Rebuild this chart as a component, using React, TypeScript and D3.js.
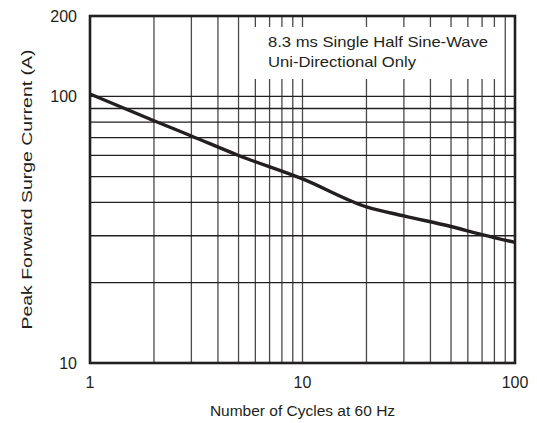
import { curveMonotoneX, line, range, scaleLog } from 'd3'

const cycles = [1, 2, 3, 5, 10, 20, 30, 50, 70, 100]
const surgeCurrent = [102, 81, 71, 60, 49, 38.5, 35.6, 32.5, 30.3, 28.3]

const xGridValues = [2, 3, 4, 5, 6, 7, 8, 9, 10, 20, 30, 40, 50, 60, 70, 80, 90]
const yGridValues = [20, 30, 40, 50, 60, 70, 80, 90, 100]
const xTickLabels = [1, 10, 100]
const yTickLabels = [10, 100, 200]

const noteLines = ['8.3 ms Single Half Sine-Wave', 'Uni-Directional Only']
const noteLengths = [220, 148]

const width = 537
const height = 423
const margin = { top: 16, right: 22, bottom: 60, left: 90 }

const ink = '#231f20'
const font = '"Liberation Sans", Arial, Helvetica, sans-serif'

function App() {
  const innerWidth = width - margin.left - margin.right
  const innerHeight = height - margin.top - margin.bottom

  const xScale = scaleLog().domain([1, 100]).range([0, innerWidth])
  const yScale = scaleLog().domain([10, 200]).range([innerHeight, 0])

  const points = range(cycles.length).map((i) => [cycles[i], surgeCurrent[i]] as [number, number])
  const curvePath = line<[number, number]>()
    .x((d) => xScale(d[0]))
    .y((d) => yScale(d[1]))
    .curve(curveMonotoneX)(points)

  // white area behind the note, cutting the vertical grid
  const noteBox = { x: 245 - margin.left, y: 27 - margin.top, w: 255, h: 52 }

  return (
    <svg
      width={width}
      height={height}
      style={{ position: 'absolute', left: 0, top: 0, background: '#fff' }}
      fontFamily={font}
    >
      <g transform={`translate(${margin.left}, ${margin.top})`}>
        {xGridValues.map((v) => (
          <line
            key={`x-${v}`}
            x1={xScale(v)}
            x2={xScale(v)}
            y1={0}
            y2={innerHeight}
            stroke="#4a4a4a"
            strokeWidth={1.3}
          />
        ))}

        {yGridValues.map((v) => (
          <line
            key={`y-${v}`}
            x1={0}
            x2={innerWidth}
            y1={yScale(v)}
            y2={yScale(v)}
            stroke={ink}
            strokeWidth={1.3}
          />
        ))}

        <rect x={noteBox.x} y={noteBox.y} width={noteBox.w} height={noteBox.h} fill="#fff" />

        {noteLines.map((t, i) => (
          <text
            key={t}
            x={268 - margin.left}
            y={47 - margin.top + i * 20}
            fontSize={15}
            textLength={noteLengths[i]}
            lengthAdjust="spacingAndGlyphs"
            fill={ink}
          >
            {t}
          </text>
        ))}

        <path d={curvePath ?? ''} fill="none" stroke={ink} strokeWidth={3.4} strokeLinejoin="round" />

        <rect
          x={0}
          y={0}
          width={innerWidth}
          height={innerHeight}
          fill="none"
          stroke={ink}
          strokeWidth={2.6}
        />

        {yTickLabels.map((v) => (
          <text
            key={`yl-${v}`}
            x={-13}
            y={yScale(v)}
            dy="0.36em"
            textAnchor="end"
            fontSize={16}
            fill={ink}
          >
            {v}
          </text>
        ))}

        {xTickLabels.map((v) => (
          <text
            key={`xl-${v}`}
            x={xScale(v)}
            y={innerHeight + 25}
            textAnchor="middle"
            fontSize={16}
            fill={ink}
          >
            {v}
          </text>
        ))}

        <text
          x={innerWidth / 2}
          y={innerHeight + 53}
          textAnchor="middle"
          fontSize={15.5}
          fill={ink}
        >
          Number of Cycles at 60 Hz
        </text>

        <text
          transform={`translate(${-58}, ${innerHeight / 2}) rotate(-90)`}
          textAnchor="middle"
          fontSize={15.5}
          textLength={280}
          lengthAdjust="spacingAndGlyphs"
          fill={ink}
        >
          Peak Forward Surge Current (A)
        </text>
      </g>
    </svg>
  )
}

export default App
